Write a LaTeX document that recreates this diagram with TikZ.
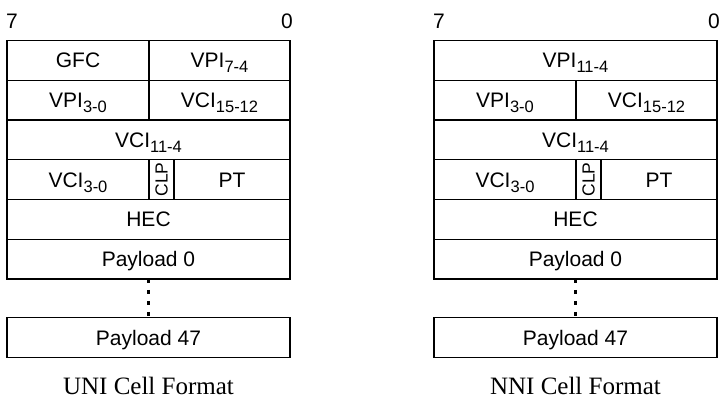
\documentclass[tikz,border=0pt]{standalone}
\usepackage{fontspec}
\setmainfont{Liberation Serif}
\newfontfamily\arialfont{Liberation Sans}
\usetikzlibrary{positioning}
% lowered, smaller bit range after a field name
\newcommand{\fsub}[1]{\raisebox{-5pt}{\fontsize{16.5}{18}\selectfont #1}}

\begin{document}
\begin{tikzpicture}[x=1pt, y=-1pt,
  box/.style={draw, line width=1.1pt, inner sep=0pt, outer sep=0pt, minimum height=39.75pt},
  field/.style={box, font=\arialfont\fontsize{21}{24}\selectfont, text height=15pt, text depth=0pt},
  bitlabel/.style={anchor=base, font=\arialfont\fontsize{21}{24}\selectfont},
  caption/.style={anchor=base, inner sep=0pt, text depth=0pt, font=\fontsize{25}{28}\selectfont},
  dotline/.style={line width=2.2pt, dash pattern=on 4pt off 7pt}]
\useasboundingbox (0,0) rectangle (721,399);

% First row differs between the two formats
\node[field, minimum width=142pt] (uni-gfc) at (7+71, 60.4) {GFC};
\node[field, minimum width=141pt] (uni-vpihi) at (7+212.5, 60.4) {VPI\fsub{7-4}};
\node[field, minimum width=283pt] (nni-vpihi) at (434+141.5, 60.4) {VPI\fsub{11-4}};

% Rows shared by UNI and NNI
\foreach \X/\p/\name in {7/uni/UNI, 434/nni/NNI}
{
  \node[bitlabel] (\p-msb) at (\X+5, 28.3) {7};
  \node[bitlabel] (\p-lsb) at (\X+280, 28.3) {0};

  \node[field, minimum width=142pt] (\p-vpilo) at (\X+71, 100.1) {VPI\fsub{3-0}};
  \node[field, minimum width=141pt] (\p-vcihi) at (\X+212.5, 100.1) {VCI\fsub{15-12}};
  \node[field, minimum width=283pt] (\p-vcimid) at (\X+141.5, 139.9) {VCI\fsub{11-4}};
  \node[field, minimum width=142pt] (\p-vcilo) at (\X+71, 179.6) {VCI\fsub{3-0}};
  \node[box, minimum width=25pt] (\p-clp) at (\X+154.5, 179.6)
    {\rotatebox{90}{\arialfont\fontsize{17.5}{18}\selectfont CLP}};
  \node[field, minimum width=116pt] (\p-pt) at (\X+225, 179.6) {PT};
  \node[field, minimum width=283pt] (\p-hec) at (\X+141.5, 219.4) {HEC};
  \node[field, minimum width=283pt] (\p-pay0) at (\X+141.5, 259.1) {Payload 0};
  \node[field, minimum width=283pt] (\p-pay47) at (\X+141.5, 337.7) {Payload 47};

  % gap for the omitted payload bytes
  \draw[dotline] (\p-pay0.south) -- (\p-pay47.north);

  \node[caption] (\p-cap) at (\X+141.5, 394.5) {\name{} Cell Format};
}
\end{tikzpicture}
\end{document}
